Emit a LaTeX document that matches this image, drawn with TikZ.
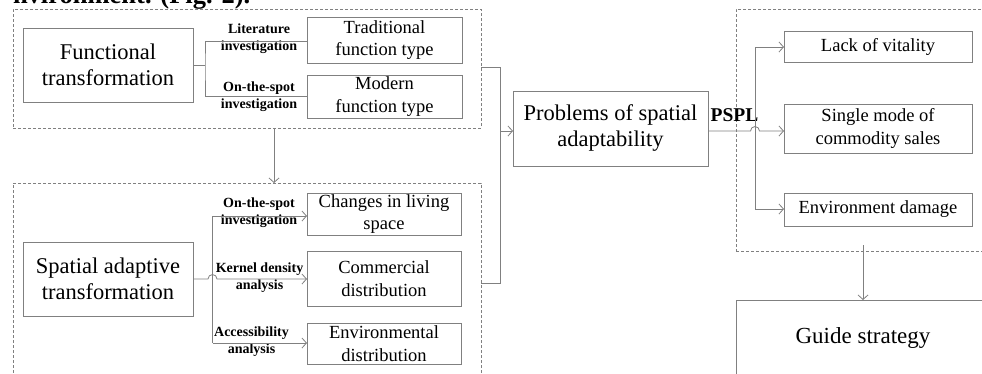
\documentclass[tikz,border=0pt]{standalone}
\usepackage{fontspec}
\setmainfont{Liberation Serif}
\usetikzlibrary{arrows.meta}
\definecolor{linegray}{gray}{0.5}
\begin{document}
\begin{tikzpicture}[x=1pt,y=-1pt,
  every node/.style={inner sep=0pt,outer sep=0pt},
  bx/.style={draw=linegray,line width=0.8pt,align=center,font=\fontsize{18.5}{22.5}\selectfont},
  bigbx/.style={bx,font=\fontsize{22.5}{26}\selectfont},
  grp/.style={draw=linegray,line width=0.8pt,dash pattern=on 3pt off 2pt},
  lab/.style={align=center,font=\bfseries\fontsize{14}{16.5}\selectfont},
  ln/.style={draw=linegray,line width=0.8pt},
  arr/.style={ln,-{Straight Barb[length=4.5pt,width=10pt]}},
]
\useasboundingbox (0,0) rectangle (982,373);
\clip (0,0) rectangle (982,373);

% cut-off caption line at the top
\node[anchor=base west,font=\bfseries\fontsize{26.5}{30}\selectfont] (cap) at (13,3) {nvironment. (Fig. 2).};

% dashed groups
\node[grp,minimum width=468,minimum height=119] (g1) at (247,68.5) {};
\node[grp,minimum width=468,minimum height=217] (g2) at (247,291.5) {};
\node[grp,minimum width=264,minimum height=242] (g3) at (868,130) {};

% boxes
\node[bigbx,minimum width=170,minimum height=74] (ft) at (108,65) {Functional\\transformation};
\node[bx,minimum width=155,minimum height=46] (trad) at (384.5,40) {Traditional\\function type};
\node[bx,minimum width=155,minimum height=43] (mod) at (384.5,96.5) {Modern\\function type};

\node[bigbx,minimum width=170,minimum height=74] (sat) at (108,279) {Spatial adaptive\\transformation};
\node[bx,minimum width=154,minimum height=42] (chg) at (384,214) {Changes in living\\space};
\node[bx,minimum width=154,minimum height=55] (com) at (384,278.5) {Commercial\\distribution};
\node[bx,minimum width=154,minimum height=41] (env) at (384,343.5) {Environmental\\distribution};

\node[bigbx,minimum width=195,minimum height=75] (prob) at (610.5,128.5) {Problems of spatial\\adaptability};

\node[bx,minimum width=188,minimum height=31] (lack) at (878,46.5) {Lack of vitality};
\node[bx,minimum width=188,minimum height=49] (sing) at (878,128.5) {Single mode of\\commodity sales};
\node[bx,minimum width=188,minimum height=33] (dmg) at (878,209.5) {Environment damage};

\node[bigbx,font=\fontsize{23}{27}\selectfont,minimum width=254,minimum height=75] (guide) at (863,337.5) {Guide strategy};

% labels
\node[lab] (l1) at (259,38.5) {Literature\\investigation};
\node[lab] (l2) at (259,96.5) {On-the-spot\\investigation};
\node[lab] (l3) at (259,212.5) {On-the-spot\\investigation};
\node[lab] (l4) at (259.5,277.5) {Kernel density\\analysis};
\node[lab] (l5) at (251.5,341.5) {Accessibility\\analysis};
\node[font=\bfseries\fontsize{19.5}{22}\selectfont] (pspl) at (734.5,115) {PSPL};

% top group connectors
\coordinate (s1) at (205,65);
\draw[ln] (ft.east) -- (s1);
\draw[ln] (trad.west |- 0,41) -| (s1) |- (mod.west |- 0,96);

% bottom group connectors
\coordinate (s2a) at (212.5,216);
\coordinate (s2b) at (212.5,343);
\draw[arr] (s2a) -- (chg.west |- s2a);
\draw[ln] (s2a) -- (s2b);
\draw[arr] (s2b) -- (env.west |- s2b);
\draw[arr] (sat.east |- 0,279) -- (208,279) arc (180:360:4.5) -- (com.west |- 0,279);

% group 1 to group 2
\draw[arr] (g1.south -| 274,0) -- (g2.north -| 274,0);

% merge to problems
\coordinate (m1) at (500,67);
\coordinate (m2) at (500,131);
\coordinate (m3) at (500,283);
\draw[ln] (g1.east |- m1) -- (m1) -- (m3) -- (g2.east |- m3);
\draw[arr] (m2) -- (prob.west |- m2);

% PSPL fan-out
\coordinate (r1) at (755,47);
\coordinate (r3) at (755,209);
\draw[arr] (r1) -- (lack.west |- r1);
\draw[ln] (r1) -- (r3);
\draw[arr] (r3) -- (dmg.west |- r3);
\draw[arr] (prob.east |- 0,131) -- (750.5,131) arc (180:360:4.5) -- (sing.west |- 0,131);

% to guide strategy
\draw[arr] (863,245) -- (guide.north);
\end{tikzpicture}
\end{document}
